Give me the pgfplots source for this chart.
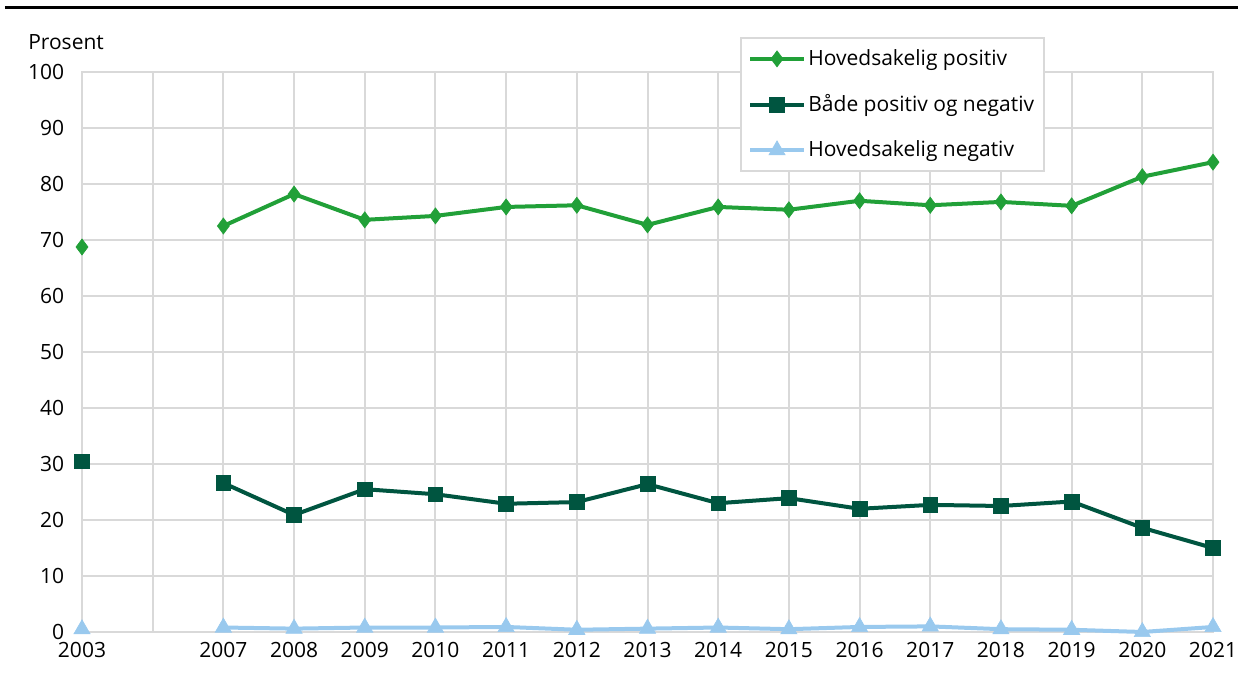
\documentclass[border=0pt]{standalone}
\usepackage{pgfplots}
\pgfplotsset{compat=1.18}
\usepackage{fontspec}
\setmainfont{Open Sans}
\definecolor{cgreen}{RGB}{33,160,56}
\definecolor{cdark}{RGB}{0,85,64}
\definecolor{cblue}{RGB}{153,201,238}
\definecolor{cgrid}{RGB}{217,217,217}
\begin{document}
\fontsize{15.75}{19}\selectfont
\begin{tikzpicture}
\path[use as bounding box] (-61.5pt,-30.75pt) rectangle (867pt,474pt);
\draw[black, line width=2.25pt] (-57.75pt,468pt) -- (867pt,468pt);
\begin{axis}[
  at={(0,0)}, anchor=south west,
  scale only axis, width=848.25pt, height=420pt,
  xmin=0, xmax=16, ymin=0, ymax=100,
  xtick={0,...,16},
  xticklabels={2003,,2007,2008,2009,2010,2011,2012,2013,2014,2015,2016,2017,2018,2019,2020,2021},
  ytick={0,10,...,100},
  grid=major,
  grid style={cgrid, line width=1.5pt},
  axis line style={cgrid, line width=1.5pt},
  major tick length=0pt,
  tick label style={font=\fontsize{15.75}{19}\selectfont},
  /pgf/number format/assume math mode=true,
  yticklabel style={xshift=-8pt},
  xticklabel style={yshift=-2pt},
  clip=false,
  unbounded coords=jump,
  legend style={at={(0.5818,1.0625)}, anchor=north west, draw=cgrid, line width=1.5pt, fill=white,
    font=\fontsize{15.75}{19}\selectfont, row sep=15.5pt, inner xsep=5.5pt, inner ysep=6.5pt},
  legend cell align=left,
  legend image code/.code={\draw[#1, line width=3pt] (0pt,0pt) -- (40pt,0pt); \draw[#1, mark repeat=1] plot coordinates {(20pt,0pt)};},
]
\addplot[cgreen, line width=3pt, mark=diamond*, mark size=6pt, mark options={solid, line width=0.5pt}] coordinates {
(0,68.75) (1,nan) (2,72.5) (3,78.2) (4,73.6) (5,74.3) (6,75.9) (7,76.2) (8,72.7) (9,75.9) (10,75.4) (11,77.0) (12,76.2) (13,76.8) (14,76.1) (15,81.3) (16,83.9)};
\addlegendentry{Hovedsakelig positiv}
\addplot[cdark, line width=3pt, mark=square*, mark size=5.5pt, mark options={solid, line width=0.5pt}] coordinates {
(0,30.5) (1,nan) (2,26.6) (3,20.9) (4,25.5) (5,24.6) (6,22.9) (7,23.2) (8,26.4) (9,23.0) (10,23.9) (11,22.0) (12,22.7) (13,22.5) (14,23.3) (15,18.6) (16,15.0)};
\addlegendentry{Både positiv og negativ}
\addplot[cblue, line width=3pt, mark=triangle*, mark size=7pt, mark options={solid, line width=0.5pt}] coordinates {
(0,0.5) (1,nan) (2,0.8) (3,0.6) (4,0.8) (5,0.8) (6,0.9) (7,0.4) (8,0.6) (9,0.8) (10,0.5) (11,0.9) (12,1.0) (13,0.5) (14,0.4) (15,0.0) (16,0.9)};
\addlegendentry{Hovedsakelig negativ}
\node[anchor=west, inner sep=0pt, font=\fontsize{15.75}{19}\selectfont] at ([shift={(-40.5pt,22.5pt)}]rel axis cs:0,1) {Prosent};
\end{axis}
\end{tikzpicture}
\end{document}
